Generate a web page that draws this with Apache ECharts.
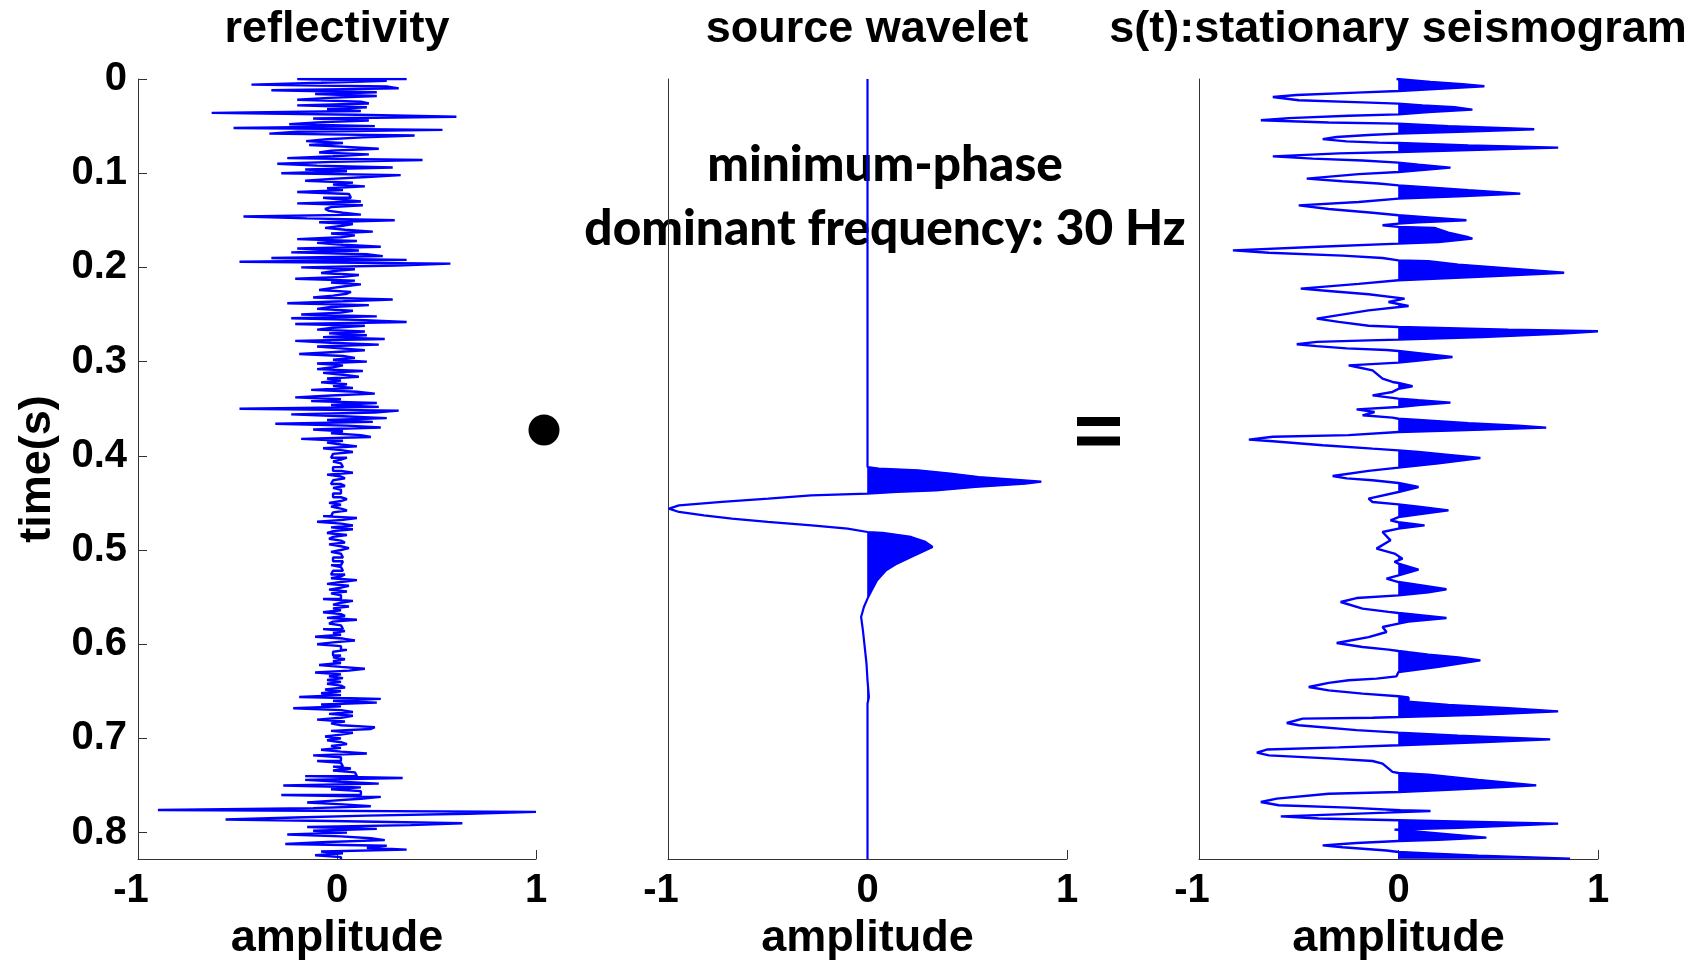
<!DOCTYPE html>
<html>
<head>
<meta charset="utf-8">
<script src="https://cdn.jsdelivr.net/npm/echarts@6/dist/echarts.min.js"></script>
<style>
html,body{margin:0;padding:0;background:#fff;}
#chart{width:1705px;height:961px;}
</style>
</head>
<body>
<div id="chart"></div>
<script>
// ---------------- data ----------------
const T_MAX = 0.828;          // bottom of time axis (s)
const DT = 0.002;             // reflectivity sample interval (s)
const timeTicks = [0, 0.1, 0.2, 0.3, 0.4, 0.5, 0.6, 0.7, 0.8];
const ampTicks = [-1, 0, 1];
const panelTitles = ['reflectivity', 'source wavelet', 's(t):stationary seismogram'];
const annotation = ['minimum-phase', 'dominant frequency: 30 Hz'];

// reflectivity samples (amplitude), one every DT seconds from t = 0
const reflectivity = [
 0.35,-0.20,0.25,-0.08,-0.43,0.25,0.31,-0.33,0.20,-0.11,
 0.20,-0.04,-0.20,0.12,0.16,-0.20,0.15,-0.05,0.12,-0.63,
 0.10,0.60,-0.12,0.16,-0.10,-0.24,0.19,-0.52,0.53,-0.20,
 -0.34,0.39,0.13,-0.05,-0.155,0.03,-0.14,0.05,0.21,-0.03,
 -0.09,0.16,-0.02,-0.25,0.43,-0.02,-0.30,-0.10,0.28,-0.16,
 0.05,-0.28,0.32,0.15,-0.03,-0.16,0.08,-0.02,0.14,-0.05,
 0.03,-0.20,0.06,0.07,-0.07,0.02,0.12,-0.20,0.13,-0.03,
 -0.06,-0.04,0.03,0.12,-0.47,-0.15,0.29,-0.09,0.08,0.02,
 -0.06,0.04,0.18,-0.03,0.09,0.02,-0.20,0.10,-0.10,0.03,
 0.22,-0.20,0.11,-0.23,0.15,0.23,-0.33,0.35,-0.49,0.57,
 0.30,-0.18,0.09,-0.02,-0.08,0.11,0.03,-0.21,0.09,-0.03,
 0.12,0.04,-0.03,-0.09,0.07,0.05,-0.02,-0.12,0.28,0.03,
 -0.25,0.16,-0.03,-0.10,0.08,0.02,-0.18,0.20,-0.23,0.14,
 0.35,-0.21,0.14,-0.02,-0.10,0.14,-0.04,0.15,-0.07,0.24,
 -0.21,-0.03,0.21,-0.10,0.02,0.14,-0.03,-0.19,0.03,0.09,
 -0.02,0.15,-0.10,0.03,-0.02,-0.10,0.13,-0.07,0.03,0.11,
 -0.05,0.02,-0.08,0.05,-0.02,0.08,-0.13,0.10,0.19,-0.03,
 -0.21,0.02,-0.13,0.20,-0.03,0.21,-0.49,0.31,0.19,-0.23,
 0.03,0.25,-0.05,0.18,-0.31,0.05,0.22,-0.12,0.03,-0.03,
 0.12,0.17,-0.18,0.03,-0.05,0.02,0.10,-0.07,0.02,0.08,
 -0.02,-0.03,0.05,0.02,-0.02,0.02,0.03,-0.02,-0.02,0.02,
 0.08,-0.05,0.02,0.04,-0.02,-0.03,0.02,0.04,-0.02,0.02,
 0.02,-0.02,-0.02,0.02,0.05,0.02,-0.04,0.02,-0.03,0.02,
 0.05,-0.02,-0.03,-0.07,0.10,0.03,-0.10,0.02,0.08,-0.03,
 0.08,-0.02,-0.05,0.05,-0.02,-0.04,0.02,0.04,-0.04,0.02,
 0.06,0.02,-0.03,0.02,0.03,-0.02,-0.02,0.03,0.02,-0.03,
 0.02,0.03,-0.02,-0.03,0.04,0.02,-0.03,0.10,0.02,-0.05,
 0.06,0.02,-0.04,0.05,-0.03,0.02,0.02,-0.07,0.08,0.02,
 -0.02,0.06,-0.02,0.02,-0.07,0.02,0.04,-0.05,0.10,-0.02,
 -0.04,0.02,0.03,-0.07,0.04,-0.02,0.02,-0.11,0.03,0.09,
 -0.02,-0.10,0.02,0.02,0.05,-0.02,-0.02,0.02,-0.02,0.04,
 -0.02,0.02,-0.09,0.02,0.14,0.06,-0.11,0.02,-0.04,0.03,
 -0.05,0.02,-0.05,0.02,0.04,-0.06,0.02,-0.08,0.02,-0.19,
 0.22,-0.02,0.20,-0.08,0.02,-0.22,0.02,0.08,-0.04,0.08,
 0.02,-0.10,0.04,-0.03,0.02,0.19,0.17,-0.03,0.08,0.02,
 -0.06,0.02,-0.05,0.02,0.05,-0.03,0.02,-0.08,0.02,0.15,
 -0.12,0.02,0.02,-0.10,0.02,0.03,-0.02,0.07,-0.02,0.09,
 0.10,-0.16,0.33,-0.16,0.02,0.21,-0.27,0.12,-0.03,0.12,
 0.12,-0.28,0.22,0.12,-0.02,-0.15,0.03,0.17,-0.12,-0.90,
 1.00,0.66,0.15,-0.21,-0.56,0.05,0.63,0.37,-0.15,0.20,
 -0.12,0.05,-0.25,0.02,0.17,0.24,-0.05,-0.26,0.25,0.15,
 0.35,-0.08,0.03,-0.11,0.02
];

// source wavelet: amplitude / time (s)
const waveletAmp = [0,0,0.057,0.254,0.415,0.558,0.871,0.79,0.54,0.343,0.147,0,-0.283,-0.497,-0.73,-0.945,-0.995,-0.945,-0.82,-0.68,-0.5,-0.28,-0.1,0,0.075,0.218,0.29,0.326,0.272,0.218,0.147,0.093,0.048,0.021,0,-0.018,-0.032,-0.023,-0.014,-0.005,0,0.007,0,0];
const waveletTime = [0,0.4119,0.4135,0.4154,0.4189,0.4225,0.4275,0.4296,0.4331,0.4366,0.4384,0.4402,0.4420,0.4455,0.4490,0.4526,0.4561,0.4596,0.4632,0.4667,0.4702,0.4738,0.4773,0.4809,0.4819,0.4861,0.4914,0.4968,0.5021,0.5074,0.5145,0.5216,0.5322,0.5428,0.5516,0.5605,0.5711,0.5853,0.6029,0.6206,0.6383,0.6560,0.6631,0.828];

// stationary seismogram: amplitude / time (s)
const seisAmp = [
 -0.01,0.00,0.16,0.32,0.43,0.20,0.00,-0.21,-0.51,-0.63,-0.50,-0.18,0.00,0.12,0.28,0.37,0.15,0.00,
 -0.25,-0.55,-0.69,-0.35,0.00,0.25,0.50,0.68,0.30,0.00,-0.15,-0.31,-0.38,-0.26,-0.10,0.00,0.35,0.80,0.40,0.00,
 -0.30,-0.63,-0.43,-0.18,0.00,0.10,0.26,0.10,0.00,-0.20,-0.46,-0.28,-0.10,0.00,0.15,0.35,0.61,0.30,0.00,
 -0.20,-0.50,-0.35,-0.13,0.00,0.15,0.34,0.10,0.00,-0.08,0.00,0.18,0.25,0.35,0.37,0.20,0.00,
 -0.40,-0.83,-0.65,-0.28,-0.08,0.00,0.15,0.30,0.55,0.83,0.40,0.00,-0.20,-0.49,-0.35,-0.15,0.03,-0.05,0.05,
 -0.15,-0.41,-0.30,-0.15,0.00,0.25,0.55,1.00,0.82,0.42,0.00,-0.15,-0.41,-0.51,-0.41,-0.26,-0.06,0.00,
 0.10,0.27,0.10,0.00,-0.25,-0.21,-0.13,-0.08,-0.03,0.00,0.07,0.00,-0.03,-0.13,0.00,0.10,0.26,0.10,0.00,
 -0.21,-0.12,-0.18,-0.03,0.00,0.10,0.35,0.60,0.74,0.30,0.00,-0.25,-0.63,-0.75,-0.63,-0.38,-0.13,0.00,
 0.10,0.25,0.41,0.20,0.00,-0.15,-0.33,-0.26,-0.13,0.00,0.10,0.00,-0.15,-0.13,0.00,0.10,0.25,0.10,0.00,
 -0.04,0.00,0.13,0.00,-0.08,-0.04,-0.11,-0.02,0.02,-0.02,0.00,0.10,0.00,-0.06,0.00,0.10,0.24,0.15,0.00,
 -0.21,-0.29,-0.18,-0.05,0.00,0.24,0.05,0.00,-0.08,-0.06,-0.15,-0.31,-0.18,-0.05,0.00,
 0.05,0.15,0.30,0.41,0.20,0.00,-0.01,-0.11,-0.25,-0.35,-0.45,-0.35,-0.18,0.00,
 0.05,0.05,0.25,0.55,0.80,0.40,0.00,-0.13,-0.48,-0.56,-0.50,-0.21,0.00,0.30,0.76,0.40,0.00,
 -0.30,-0.66,-0.71,-0.65,-0.33,-0.13,-0.08,-0.03,0.00,0.15,0.40,0.69,0.30,0.00,
 -0.35,-0.61,-0.69,-0.60,-0.25,0.01,0.16,-0.06,-0.59,-0.40,0.00,0.80,0.30,-0.02,0.10,0.44,0.20,0.00,
 -0.21,-0.38,-0.28,-0.06,0.00,0.15,0.40,0.86
];
const seisTime = [
 0.0000,0.0007,0.0030,0.0055,0.0077,0.0105,0.0127,0.0145,0.0170,0.0191,0.0225,0.0248,0.0261,0.0280,0.0300,0.0325,0.0350,0.0375,
 0.0390,0.0415,0.0438,0.0462,0.0474,0.0500,0.0520,0.0534,0.0560,0.0580,0.0595,0.0616,0.0638,0.0662,0.0675,0.0680,0.0705,0.0728,0.0752,0.0775,
 0.0790,0.0821,0.0845,0.0865,0.0888,0.0910,0.0941,0.0970,0.0987,0.1010,0.1058,0.1085,0.1110,0.1129,0.1150,0.1180,0.1217,0.1245,0.1270,
 0.1305,0.1341,0.1380,0.1420,0.1447,0.1470,0.1500,0.1520,0.1535,0.1553,0.1570,0.1580,0.1630,0.1680,0.1695,0.1730,0.1748,
 0.1780,0.1819,0.1845,0.1875,0.1900,0.1925,0.1935,0.1970,0.2010,0.2056,0.2100,0.2137,0.2175,0.2225,0.2250,0.2285,0.2332,0.2367,0.2410,
 0.2456,0.2544,0.2578,0.2620,0.2633,0.2645,0.2660,0.2677,0.2703,0.2739,0.2767,0.2775,0.2790,0.2816,0.2836,0.2860,0.2877,0.2887,
 0.2910,0.2951,0.2990,0.3011,0.3040,0.3057,0.3093,0.3180,0.3216,0.3227,0.3262,0.3290,0.3322,0.3358,0.3393,0.3410,0.3435,0.3460,0.3482,
 0.3507,0.3535,0.3570,0.3595,0.3606,0.3620,0.3655,0.3680,0.3701,0.3730,0.3747,0.3780,0.3797,0.3828,0.3846,0.3888,0.3924,0.3942,
 0.3960,0.3990,0.4023,0.4080,0.4126,0.4160,0.4214,0.4240,0.4260,0.4289,0.4331,0.4384,0.4455,0.4490,0.4515,0.4540,0.4579,0.4620,0.4650,
 0.4685,0.4705,0.4738,0.4773,0.4809,0.4897,0.4985,0.5038,0.5092,0.5125,0.5145,0.5208,0.5269,0.5304,0.5340,0.5370,0.5417,0.5450,0.5481,
 0.5510,0.5552,0.5622,0.5657,0.5669,0.5722,0.5760,0.5782,0.5817,0.5870,0.5924,0.5987,0.6029,0.6057,0.6072,
 0.6085,0.6110,0.6140,0.6171,0.6240,0.6295,0.6341,0.6365,0.6383,0.6410,0.6454,0.6490,0.6524,0.6553,
 0.6565,0.6610,0.6645,0.6680,0.6713,0.6750,0.6773,0.6780,0.6790,0.6836,0.6860,0.6912,0.6939,0.6970,0.7010,0.7040,0.7073,
 0.7095,0.7118,0.7151,0.7180,0.7215,0.7240,0.7268,0.7355,0.7367,0.7385,0.7440,0.7498,0.7540,0.7569,
 0.7587,0.7639,0.7675,0.7710,0.7735,0.7763,0.7771,0.7788,0.7827,0.7850,0.7869,0.7905,0.7950,0.7968,0.7990,0.8053,0.8075,0.8089,
 0.8110,0.8135,0.8155,0.8190,0.8206,0.8220,0.8245,0.8276
];

// ---------------- chart ----------------
const BLUE = '#0000ff';
const AXIS = '#333333';
const FONT = 'Liberation Sans, Arial, sans-serif';

const grids = [
  {left: 138, top: 79, width: 398, height: 780},
  {left: 668, top: 79, width: 399, height: 780},
  {left: 1199, top: 79, width: 399, height: 780}
].map(g => Object.assign(g, {containLabel: false, outerBoundsMode: 'none'}));

function makeXAxis(i) {
  return {
    type: 'value', gridIndex: i, min: ampTicks[0], max: ampTicks[ampTicks.length - 1], interval: 1,
    axisLine: {show: true, onZero: false, lineStyle: {color: AXIS, width: 1}},
    axisTick: {show: true, inside: true, length: 9, lineStyle: {color: AXIS, width: 1}},
    splitLine: {show: false},
    axisLabel: {
      show: true, margin: 12, color: '#000', fontSize: 40, fontWeight: 'bold', fontFamily: FONT,
      formatter: v => (v === -1 ? '{n|-1}' : String(v)),
      rich: {n: {padding: [0, 14, 0, 0], fontSize: 40, fontWeight: 'bold', fontFamily: FONT, color: '#000'}}
    },
    name: 'amplitude', nameLocation: 'middle', nameGap: 52,
    nameTextStyle: {color: '#000', fontSize: 45, fontWeight: 'bold', fontFamily: FONT}
  };
}
function makeYAxis(i) {
  const first = i === 0;
  return {
    type: 'value', gridIndex: i, inverse: true, min: 0, max: T_MAX, interval: 0.1,
    axisLine: {show: true, onZero: false, lineStyle: {color: AXIS, width: 1}},
    axisTick: {show: first, inside: true, length: 9, lineStyle: {color: AXIS, width: 1}},
    splitLine: {show: false},
    axisLabel: {
      show: first, margin: 11, color: '#000', fontSize: 40, fontWeight: 'bold', fontFamily: FONT,
      formatter: v => {
        const hit = timeTicks.find(t => Math.abs(t - v) < 1e-6);
        return hit === undefined ? '' : String(hit);
      }
    },
    name: first ? 'time(s)' : '', nameLocation: 'middle', nameGap: 78, nameRotate: 90,
    nameTextStyle: {color: '#000', fontSize: 45, fontWeight: 'bold', fontFamily: FONT}
  };
}

function fillRenderer(amps, times) {
  return function (params, api) {
    if (params.dataIndex !== 0) return null;
    const children = [];
    let poly = null;
    const close = () => {
      children.push({type: 'polygon', shape: {points: poly},
        style: {fill: BLUE, stroke: BLUE, lineWidth: 0.6}});
      poly = null;
    };
    for (let i = 0; i < amps.length; i++) {
      const a = amps[i], t = times[i];
      if (a > 0) {
        if (!poly) {
          let ts = t;
          if (i > 0) {
            const a0 = amps[i - 1], t0 = times[i - 1];
            ts = t0 + (t - t0) * (0 - a0) / (a - a0);
          }
          poly = [api.coord([0, ts])];
        }
        poly.push(api.coord([a, t]));
      } else if (poly) {
        const a0 = amps[i - 1], t0 = times[i - 1];
        const te = t0 + (t - t0) * a0 / (a0 - a);
        poly.push(api.coord([0, te]));
        close();
      }
    }
    if (poly) { poly.push(api.coord([0, times[times.length - 1]])); close(); }
    return {type: 'group', children};
  };
}

const reflData = reflectivity.map((a, i) => [a, i * DT]);
const waveletData = waveletAmp.map((a, i) => [a, waveletTime[i]]);
const seisData = seisAmp.map((a, i) => [a, seisTime[i]]);

const lineBase = {type: 'line', showSymbol: false, symbol: 'none', silent: true, animation: false};

const graphic = [];
const centers = [337, 867, 1398];
panelTitles.forEach((t, i) => graphic.push({
  type: 'text', x: centers[i], y: 30,
  style: {text: t, fill: '#000', font: 'bold 45px ' + FONT, align: 'center', verticalAlign: 'middle',
          textAlign: 'center', textVerticalAlign: 'middle'}
}));
[165, 229].forEach((y, k) => graphic.push({
  type: 'text', x: 885, y: y,
  style: {text: annotation[k], fill: '#000', font: '900 49.5px Lato, sans-serif', align: 'center', verticalAlign: 'middle',
          textAlign: 'center', textVerticalAlign: 'middle'}
}));
// convolution dot and equals sign
graphic.push({type: 'circle', shape: {cx: 544, cy: 430, r: 15.5}, style: {fill: '#000'}});
graphic.push({type: 'rect', shape: {x: 1077, y: 417, width: 43, height: 9}, style: {fill: '#000'}});
graphic.push({type: 'rect', shape: {x: 1077, y: 436.5, width: 43, height: 9}, style: {fill: '#000'}});

const option = {
  backgroundColor: '#fff',
  animation: false,
  grid: grids,
  xAxis: [0, 1, 2].map(makeXAxis),
  yAxis: [0, 1, 2].map(makeYAxis),
  graphic: graphic,
  series: [
    Object.assign({}, lineBase, {xAxisIndex: 0, yAxisIndex: 0, data: reflData, step: 'end',
      lineStyle: {color: BLUE, width: 2.4}}),
    {type: 'custom', xAxisIndex: 1, yAxisIndex: 1, silent: true, data: [[0, 0]], encode: {x: 0, y: 1},
      renderItem: fillRenderer(waveletAmp, waveletTime)},
    Object.assign({}, lineBase, {xAxisIndex: 1, yAxisIndex: 1, data: waveletData,
      lineStyle: {color: BLUE, width: 2.2}}),
    {type: 'custom', xAxisIndex: 2, yAxisIndex: 2, silent: true, data: [[0, 0]], encode: {x: 0, y: 1},
      renderItem: fillRenderer(seisAmp, seisTime)},
    Object.assign({}, lineBase, {xAxisIndex: 2, yAxisIndex: 2, data: seisData,
      lineStyle: {color: BLUE, width: 2.4}})
  ]
};

const chart = echarts.init(document.getElementById('chart'), null, {renderer: 'canvas', width: 1705, height: 961});
chart.setOption(option);
</script>
</body>
</html>
